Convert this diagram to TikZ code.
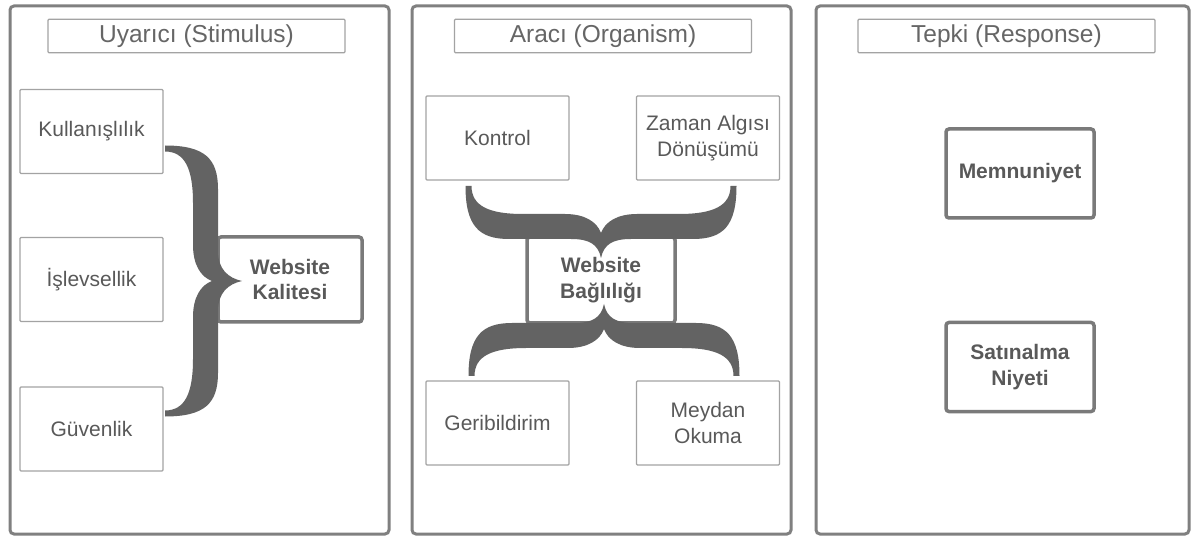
\documentclass[tikz,border=0pt]{standalone}
\usepackage{fontspec}
\setmainfont{Liberation Sans}
\definecolor{panelc}{HTML}{808080}
\definecolor{thinc}{HTML}{A3A3A3}
\definecolor{boldc}{HTML}{7A7A7A}
\definecolor{txtc}{HTML}{595959}
\definecolor{titlec}{HTML}{666666}
\definecolor{bracec}{HTML}{636363}
\newcommand{\bracefillpath}[1]{%
  \fill[bracec] (0,-135.5) .. controls (40,-135.5) and (53,-122) .. (53,-92)
  -- (53,-30) .. controls (53,-12) and (#1-14,-3) .. (#1,0)
  .. controls (#1-14,3) and (53,12) .. (53,30) -- (53,92)
  .. controls (53,122) and (40,135.5) .. (0,135.5) -- (0,129.5)
  .. controls (20,129.5) and (28,112) .. (28,78) -- (28,36)
  .. controls (28,16) and (36,4) .. (47,0)
  .. controls (36,-4) and (28,-16) .. (28,-36) -- (28,-78)
  .. controls (28,-112) and (20,-129.5) .. (0,-129.5) -- cycle;}
\begin{document}
\begin{tikzpicture}[x=1pt,y=-1pt,
  panelbox/.style={draw=panelc, line width=3pt, rounded corners=4pt, inner sep=0pt, outer sep=0pt},
  titlebox/.style={draw=thinc, line width=1.3pt, rounded corners=1pt, inner sep=0pt, outer sep=0pt,
     minimum width=297pt, minimum height=33.5pt, text=titlec, font=\fontsize{24.5}{28}\selectfont},
  itembox/.style={draw=thinc, line width=1.3pt, rounded corners=1pt, inner sep=0pt, outer sep=0pt,
     minimum width=143pt, minimum height=84pt, text=txtc, align=center, font=\fontsize{21}{25.5}\selectfont},
  keybox/.style={draw=boldc, line width=3.5pt, rounded corners=3pt, inner sep=0pt, outer sep=0pt,
     fill=white, text=txtc, align=center, font=\bfseries\fontsize{21}{25.5}\selectfont}
]
\useasboundingbox (0,0) rectangle (1192,537);
\fill[white] (0,0) rectangle (1192,537);
% panels
\node[panelbox, minimum width=379pt, minimum height=528pt] (p1) at (199.5,270) {};
\node[panelbox, minimum width=379pt, minimum height=528pt] (p2) at (601.5,270) {};
\node[panelbox, minimum width=373pt, minimum height=528pt] (p3) at (1002.5,270) {};
% titles
\node[titlebox] (t1) at (196.5,36) {Uyarıcı (Stimulus)};
\node[titlebox] (t2) at (603,36) {Aracı (Organism)};
\node[titlebox] (t3) at (1006.5,36) {Tepki (Response)};
% panel 1
\node[itembox] (kul) at (91.5,131.5) {Kullanışlılık};
\node[itembox] (isl) at (91.5,279.5) {İşlevsellik};
\node[itembox] (guv) at (91.5,429) {Güvenlik};
\node[keybox, minimum width=144pt, minimum height=85pt] (wk) at (290,279.5) {Website\\Kalitesi};
% panel 2
\node[itembox] (kon) at (497.5,138) {Kontrol};
\node[itembox] (zam) at (708,138) {Zaman Algısı\\Dönüşümü};
\node[itembox] (ger) at (497.5,423) {Geribildirim};
\node[itembox] (mey) at (708,423) {Meydan\\Okuma};
\node[keybox, minimum width=148pt, minimum height=86pt] (wb) at (601,280) {};
% panel 3
\node[keybox, minimum width=148pt, minimum height=89pt] (mem) at (1020,173.5) {Memnuniyet};
\node[keybox, minimum width=148pt, minimum height=89pt] (sat) at (1020,367) {Satınalma\\Niyeti};
% braces
\begin{scope}[shift={(165,281)}]
  \bracefillpath{77}
\end{scope}
\begin{scope}[shift={(601,186)}, rotate=-90]
  \bracefillpath{72}
\end{scope}
\begin{scope}[shift={(604,376)}, rotate=90]
  \bracefillpath{72}
\end{scope}
\node[text=txtc, align=center, font=\bfseries\fontsize{21}{25.5}\selectfont] (wbt) at (wb.center) {Website\\Bağlılığı};
\end{tikzpicture}
\end{document}
